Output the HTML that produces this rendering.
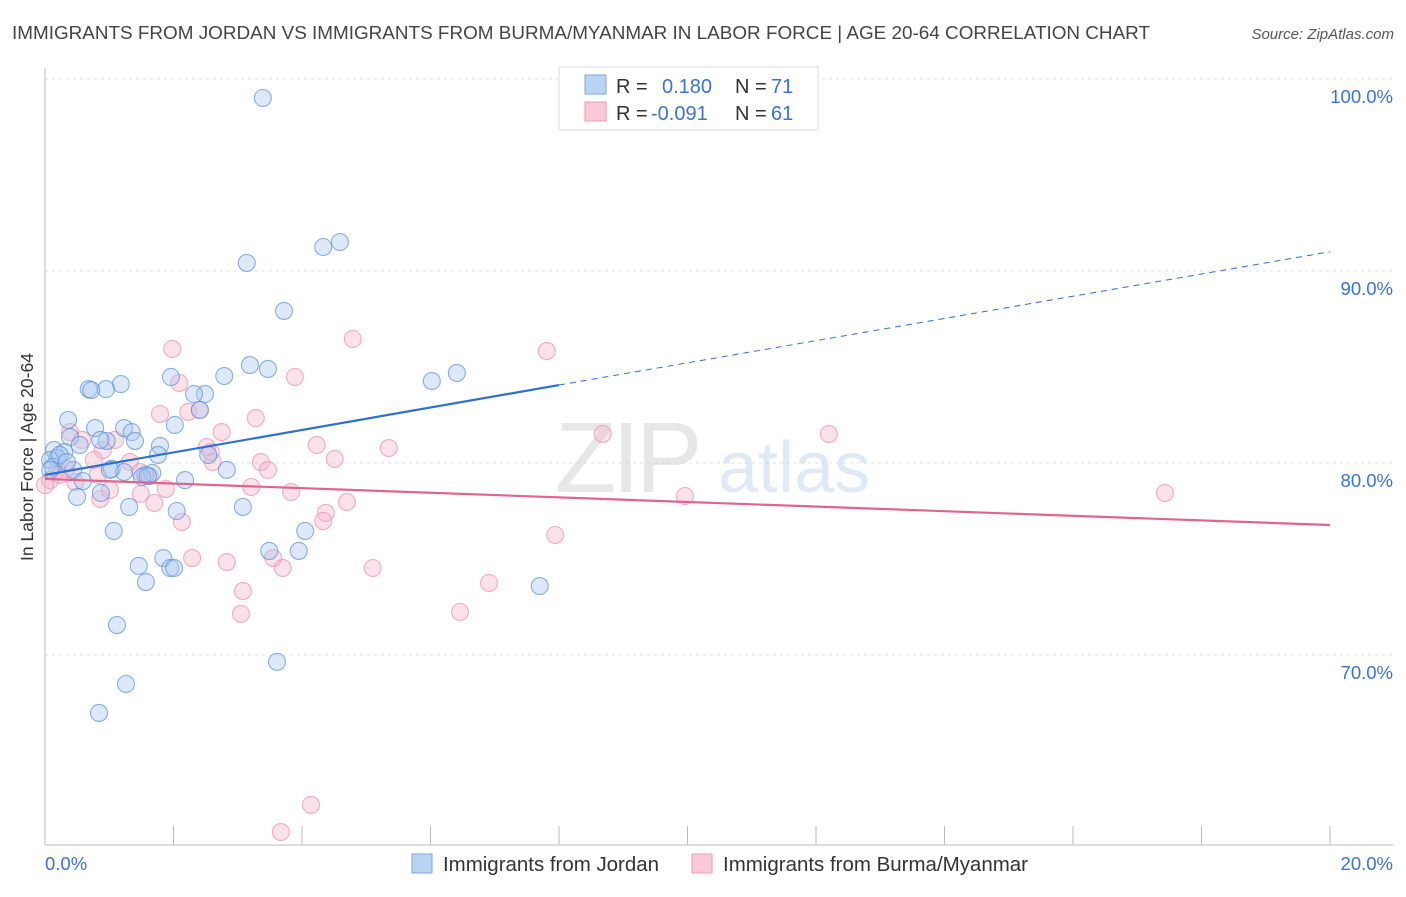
<!DOCTYPE html>
<html><head><meta charset="utf-8"><style>
body{margin:0;background:#fff;font-family:"Liberation Sans",sans-serif;}
svg text{font-family:"Liberation Sans",sans-serif;}
</style></head><body>
<svg id="chart" width="1406" height="892" xmlns="http://www.w3.org/2000/svg">
<text x="12" y="39" font-size="18.5" fill="#444" textLength="1138" lengthAdjust="spacingAndGlyphs">IMMIGRANTS FROM JORDAN VS IMMIGRANTS FROM BURMA/MYANMAR IN LABOR FORCE | AGE 20-64 CORRELATION CHART</text>
<text x="1394" y="39" font-size="15" fill="#555" text-anchor="end" font-style="italic">Source: ZipAtlas.com</text>
<text transform="translate(33,457) rotate(-90)" font-size="17.5" fill="#333" text-anchor="middle">In Labor Force | Age 20-64</text>
<g id="grid"></g>
<g opacity="0.35">
<text x="555" y="492" font-size="100" font-family="Liberation Serif" fill="#bbb" letter-spacing="-4">ZIP</text>
<text x="718" y="492" font-size="72" fill="#a9c5e8">atlas</text>
</g>
<g id="pts"></g>
<g id="lines"></g>
<g>
<rect x="559" y="67" width="259" height="63" fill="#fff" stroke="#ddd"/>
<rect x="585" y="75" width="21" height="19" fill="#b9d3f5" stroke="#7ea6e0"/>
<rect x="585" y="102" width="21" height="19" fill="#fbc9d8" stroke="#f09ab4"/>
<text x="616" y="93" font-size="20" fill="#333">R =</text>
<text x="662" y="93" font-size="20" fill="#3b73d1">0.180</text>
<text x="735" y="93" font-size="20" fill="#333">N =</text>
<text x="771" y="93" font-size="20" fill="#3b73d1">71</text>
<text x="616" y="120" font-size="20" fill="#333">R =</text>
<text x="651" y="120" font-size="20" fill="#3b73d1">-0.091</text>
<text x="735" y="120" font-size="20" fill="#333">N =</text>
<text x="771" y="120" font-size="20" fill="#3b73d1">61</text>
</g>
<g>
<rect x="412" y="854" width="20" height="19" fill="#b9d3f5" stroke="#7ea6e0"/>
<text x="443" y="871" font-size="20" fill="#333" textLength="216" lengthAdjust="spacingAndGlyphs">Immigrants from Jordan</text>
<rect x="692" y="854" width="20" height="19" fill="#fbc9d8" stroke="#f09ab4"/>
<text x="723" y="871" font-size="20" fill="#333" textLength="305" lengthAdjust="spacingAndGlyphs">Immigrants from Burma/Myanmar</text>
</g>
</svg>
<script>
const yTicks=[100,90,80,70];
const yTickLabels=["100.0%","90.0%","80.0%","70.0%"];
const xTickLabels=["0.0%","20.0%"];
const blueX=[3.39,3.14,4.33,4.59,3.72,3.19,3.47,2.79,1.96,2.49,1.18,0.68,0.95,0.72,2.41,6.02,6.41,0.36,2.02,0.78,1.23,0.39,1.35,0.96,0.86,1.40,1.79,1.76,0.14,0.30,0.19,0.08,0.12,0.44,1.04,1.23,1.56,1.67,1.51,1.60,2.54,2.83,2.18,0.59,0.87,0.50,1.31,2.05,3.08,1.07,4.05,1.84,1.46,1.95,2.01,1.57,3.49,3.95,7.70,1.12,3.61,1.26,0.84,0.08,0.23,0.54,0.34,2.32,1.01];
const blueY=[99.01,90.42,91.25,91.51,87.92,85.10,84.90,84.53,84.48,83.59,84.11,83.85,83.85,83.80,82.76,84.27,84.69,82.24,81.98,81.82,81.82,81.35,81.61,81.15,81.20,81.15,80.89,80.42,80.68,80.57,80.26,80.16,79.79,79.64,79.69,79.53,79.38,79.48,79.27,79.32,80.42,79.64,79.11,79.06,78.44,78.23,77.71,77.50,77.71,76.46,76.46,75.05,74.64,74.53,74.53,73.80,75.42,75.42,73.59,71.56,69.64,68.49,66.98,79.64,80.42,80.94,80.05,83.59,79.64];
const pinkX=[1.98,4.79,7.81,2.09,3.89,1.79,2.23,3.28,2.75,8.68,12.20,0.39,0.58,1.09,0.90,2.52,2.58,4.23,5.35,4.51,3.36,3.47,0.76,1.32,0.19,0.33,1.48,1.63,3.21,1.88,3.83,1.49,0.86,4.70,4.37,4.33,2.13,9.96,17.43,7.94,2.29,2.83,3.55,3.70,5.10,6.91,3.08,6.46,3.05,4.14,3.67,0.08,0.00,0.23,1.70,1.01,2.61,0.47,0.82,2.41];
const pinkY=[85.94,86.46,85.83,84.17,84.48,82.55,82.66,82.34,81.61,81.51,81.51,81.61,81.20,81.20,80.68,80.83,80.57,80.94,80.78,80.21,80.05,79.64,80.16,80.05,79.64,79.69,79.53,79.32,78.75,78.65,78.49,78.39,78.13,77.97,77.40,76.98,76.93,78.28,78.44,76.25,75.05,74.84,75.05,74.53,74.53,73.75,73.33,72.24,72.14,62.19,60.78,79.11,78.85,79.38,77.92,78.59,80.05,79.01,79.38,82.76];
const blueTrend=[[0,79.38],[8.0,84.06],[20,91.0]];
const pinkTrend=[[0,79.17],[20,76.77]];
const X=v=>45+v/20*1285;
const Y=v=>79+(100-v)*19.2;
const NS="http://www.w3.org/2000/svg";
function mk(tag,attrs,parent){const e=document.createElementNS(NS,tag);for(const k in attrs)e.setAttribute(k,attrs[k]);parent.appendChild(e);return e;}
const grid=document.getElementById('grid');
yTicks.forEach((t,i)=>{
 const l=mk('line',{x1:45,x2:1393,y1:Y(t),y2:Y(t),stroke:'#e2e2e2','stroke-dasharray':'3,4'},grid);
 
 
 const tx=mk('text',{x:1393,y:Y(t)+24,'font-size':18.5,fill:'#3b73d1','text-anchor':'end'},grid);
 tx.textContent=yTickLabels[i];
 
 
});
const ax=mk('line',{x1:45,x2:45,y1:68,y2:845,stroke:'#bbb'},grid);


const bx=mk('line',{x1:45,x2:1393,y1:845,y2:845,stroke:'#bbb'},grid);


for(let i=0;i<=10;i++){const t=mk('line',{x1:X(i*2),x2:X(i*2),y1:826,y2:845,stroke:'#bbb'},grid);
 
 }
[[0,'start',45],[20,'end',1393]].forEach((d,i)=>{const t=mk('text',{x:d[2],y:870,'font-size':18.5,fill:'#3b73d1','text-anchor':d[1]},grid);t.textContent=xTickLabels[i];
 
 });
const pts=document.getElementById('pts');
function dots(xs,ys,fill,stroke,name){xs.forEach((x,i)=>{const c=mk('circle',{cx:X(x),cy:Y(ys[i]),r:8.5,fill:fill,'fill-opacity':0.4,stroke:stroke,'stroke-opacity':0.7,'stroke-width':1.1},pts);
 
 });}
dots(pinkX,pinkY,'#f6b3c8','#ec8fae','burma-point');
dots(blueX,blueY,'#a9c8f0','#5a8fd8','jordan-point');
const lines=document.getElementById('lines');
const b1=mk('line',{x1:X(blueTrend[0][0]),y1:Y(blueTrend[0][1]),x2:X(blueTrend[1][0]),y2:Y(blueTrend[1][1]),stroke:'#2f6fd0','stroke-width':2.2},lines);


const b2=mk('line',{x1:X(blueTrend[1][0]),y1:Y(blueTrend[1][1]),x2:X(blueTrend[2][0]),y2:Y(blueTrend[2][1]),stroke:'#2f6fd0','stroke-width':1,'stroke-dasharray':'6,5'},lines);


const p1=mk('line',{x1:X(pinkTrend[0][0]),y1:Y(pinkTrend[0][1]),x2:X(pinkTrend[1][0]),y2:Y(pinkTrend[1][1]),stroke:'#e0648e','stroke-width':2.2},lines);


</script>
</body></html>
